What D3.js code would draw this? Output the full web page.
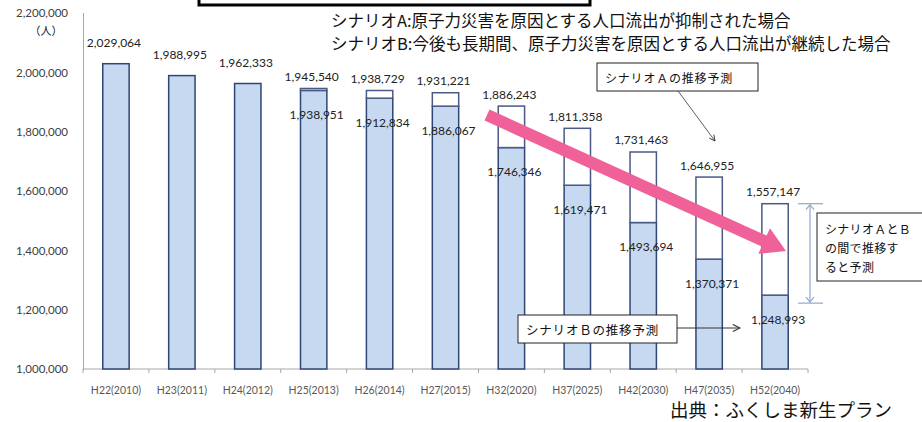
<!DOCTYPE html>
<html>
<head>
<meta charset="utf-8">
<script src="https://cdn.jsdelivr.net/npm/d3@7"></script>
<style>
  body { margin: 0; background: #fff; }
  svg { display: block; }
  .num { font-family: Lato, "Liberation Sans", sans-serif; font-size: 12px; fill: #222; }
  .jp { font-family: "Noto Sans CJK JP", sans-serif; fill: #111; }
</style>
</head>
<body>
<svg id="chart" width="922" height="422"></svg>
<script>
// categories and the two projections (people)
const years = ["H22(2010)", "H23(2011)", "H24(2012)", "H25(2013)", "H26(2014)", "H27(2015)",
  "H32(2020)", "H37(2025)", "H42(2030)", "H47(2035)", "H52(2040)"];
const scenarioA = [2029064, 1988995, 1962333, 1945540, 1938729, 1931221,
  1886243, 1811358, 1731463, 1646955, 1557147];
const scenarioB = [2029064, 1988995, 1962333, 1938951, 1912834, 1886067,
  1746346, 1619471, 1493694, 1370371, 1248993];
const yTicks = [1000000, 1200000, 1400000, 1600000, 1800000, 2000000, 2200000];

const legendLines = [
  "シナリオA:原子力災害を原因とする人口流出が抑制された場合",
  "シナリオB:今後も長期間、原子力災害を原因とする人口流出が継続した場合"
];

const rows = years.map((y, i) => ({ year: y, a: scenarioA[i], b: scenarioB[i] }));

const svg = d3.select("#chart");
const plotLeft = 83, plotRight = 808, plotTop = 13, plotBottom = 369;

const x = d3.scaleBand()
  .domain(years)
  .range([plotLeft, plotRight])
  .paddingInner(0.6)
  .paddingOuter(0.3);

const y = d3.scaleLinear()
  .domain([1000000, 2200000])
  .range([plotBottom, plotTop]);

const fmt = d3.format(",");
const axisColor = "#a6a6a6";

// y axis
const yAxis = svg.append("g")
  .attr("transform", `translate(${plotLeft},0)`)
  .call(d3.axisLeft(y).tickValues(yTicks).tickFormat(fmt).tickSize(4).tickSizeOuter(0).tickPadding(11));
yAxis.select(".domain").attr("stroke", axisColor);
yAxis.selectAll(".tick line").attr("stroke", axisColor).attr("x2", 1);
yAxis.selectAll(".tick text")
  .attr("fill", "#404040")
  .style("font-family", "Lato, sans-serif")
  .style("font-size", "11.5px");

svg.append("text")
  .attr("class", "jp")
  .attr("x", 46).attr("y", 30)
  .attr("text-anchor", "middle")
  .attr("dominant-baseline", "central")
  .style("font-size", "11px")
  .attr("fill", "#404040")
  .text("（人）");

// x axis
const xAxisG = svg.append("g");
xAxisG.append("line")
  .attr("x1", plotLeft).attr("x2", plotRight)
  .attr("y1", plotBottom).attr("y2", plotBottom)
  .attr("stroke", axisColor);
xAxisG.selectAll(".xtick")
  .data(d3.range(years.length + 1))
  .join("line")
  .attr("x1", i => plotLeft + i * x.step())
  .attr("x2", i => plotLeft + i * x.step())
  .attr("y1", plotBottom).attr("y2", plotBottom + 4)
  .attr("stroke", axisColor);
xAxisG.selectAll(".xlab")
  .data(years)
  .join("text")
  .attr("x", d => x(d) + x.bandwidth() / 2)
  .attr("y", 390)
  .attr("text-anchor", "middle")
  .attr("dominant-baseline", "central")
  .style("font-family", "Lato, sans-serif")
  .style("font-size", "10.5px")
  .attr("fill", "#595959")
  .text(d => d);

// bars: scenario B (blue) + gap up to scenario A (white)
const barStroke = "#2f4575";
svg.append("g").selectAll("rect")
  .data(rows)
  .join("rect")
  .attr("x", d => x(d.year))
  .attr("width", x.bandwidth())
  .attr("y", d => y(d.b))
  .attr("height", d => y(1000000) - y(d.b))
  .attr("fill", "#c6d9f1")
  .attr("stroke", barStroke)
  .attr("stroke-width", 1.5);

svg.append("g").selectAll("rect")
  .data(rows.filter(d => d.a !== d.b))
  .join("rect")
  .attr("x", d => x(d.year))
  .attr("width", x.bandwidth())
  .attr("y", d => y(d.a))
  .attr("height", d => y(d.b) - y(d.a))
  .attr("fill", "#fff")
  .attr("stroke", "#4a5a86")
  .attr("stroke-width", 1.5);

// value labels
svg.append("g").selectAll("text")
  .data(rows)
  .join("text")
  .attr("class", "num")
  .attr("x", d => x(d.year) + x.bandwidth() / 2 - 2)
  .attr("y", d => y(d.a) - (d.a === d.b ? 21 : 12))
  .attr("text-anchor", "middle")
  .attr("dominant-baseline", "central")
  .text(d => fmt(d.a));

svg.append("g").selectAll("text")
  .data(rows.filter(d => d.a !== d.b))
  .join("text")
  .attr("class", "num")
  .attr("x", d => x(d.year) + x.bandwidth() / 2 + 3)
  .attr("y", d => y(d.b) + 24)
  .attr("text-anchor", "middle")
  .attr("dominant-baseline", "central")
  .text(d => fmt(d.b));

// header box and legend lines
svg.append("rect")
  .attr("x", 199).attr("y", -10)
  .attr("width", 391).attr("height", 15)
  .attr("fill", "#fff")
  .attr("stroke", "#000")
  .attr("stroke-width", 3);

svg.append("g").selectAll("text")
  .data(legendLines)
  .join("text")
  .attr("class", "jp")
  .attr("x", 331)
  .attr("y", (d, i) => 20 + i * 23)
  .attr("dominant-baseline", "central")
  .style("font-size", "16.5px")
  .text(d => d);

// pink trend arrow
const arrowFrom = [487, 115], arrowTo = [786, 251];
const ang = Math.atan2(arrowTo[1] - arrowFrom[1], arrowTo[0] - arrowFrom[0]);
const len = Math.hypot(arrowTo[0] - arrowFrom[0], arrowTo[1] - arrowFrom[1]);
const shaftHalf = 6, headHalf = 14, headLen = 24;
const pts = [
  [0, -shaftHalf], [len - headLen, -shaftHalf], [len - headLen, -headHalf], [len, 0],
  [len - headLen, headHalf], [len - headLen, shaftHalf], [0, shaftHalf]
];
svg.append("polygon")
  .attr("points", pts.map(p => p.join(",")).join(" "))
  .attr("transform", `translate(${arrowFrom[0]},${arrowFrom[1]}) rotate(${ang * 180 / Math.PI})`)
  .attr("fill", "#f0619a");

// callouts
svg.append("defs").append("marker")
  .attr("id", "open-arrow")
  .attr("viewBox", "0 0 10 10")
  .attr("refX", 9).attr("refY", 5)
  .attr("markerWidth", 9).attr("markerHeight", 9)
  .attr("orient", "auto")
  .append("path")
  .attr("d", "M1,1 L9,5 L1,9")
  .attr("fill", "none")
  .attr("stroke", "#333")
  .attr("stroke-width", 1.2);

function callout(bx, by, bw, bh, lines, fontSize, spacing, tracking) {
  svg.append("rect")
    .attr("x", bx).attr("y", by)
    .attr("width", bw).attr("height", bh)
    .attr("fill", "#fff")
    .attr("stroke", "#222")
    .attr("stroke-width", 1);
  svg.append("g").selectAll("text")
    .data(lines)
    .join("text")
    .attr("class", "jp")
    .attr("x", bx + 8)
    .attr("y", (d, i) => by + bh / 2 + (i - (lines.length - 1) / 2) * spacing)
    .attr("dominant-baseline", "central")
    .style("font-size", fontSize + "px")
    .style("letter-spacing", tracking + "px")
    .text(d => d);
}

// scenario A callout
svg.append("line")
  .attr("x1", 678).attr("y1", 91)
  .attr("x2", 715).attr("y2", 141)
  .attr("stroke", "#333").attr("stroke-width", 0.8)
  .attr("marker-end", "url(#open-arrow)");
callout(597, 63, 161, 28, ["シナリオＡの推移予測"], 12, 0, 0.8);

// scenario B callout
svg.append("line")
  .attr("x1", 677).attr("y1", 328)
  .attr("x2", 740).attr("y2", 328)
  .attr("stroke", "#333").attr("stroke-width", 1)
  .attr("marker-end", "url(#open-arrow)");
callout(518, 315, 159, 28, ["シナリオＢの推移予測"], 12.5, 0, 0.8);

// range bracket for the last year
const last = rows[rows.length - 1];
const capTop = y(last.a), capBot = y(last.b) + 8;
const bracket = svg.append("g").attr("stroke", "#8fa9c8").attr("stroke-width", 1.2).attr("fill", "none");
bracket.append("line").attr("x1", 798).attr("x2", 823).attr("y1", capTop).attr("y2", capTop);
bracket.append("line").attr("x1", 798).attr("x2", 823).attr("y1", capBot).attr("y2", capBot);
bracket.append("line").attr("x1", 810).attr("x2", 810).attr("y1", capTop + 1).attr("y2", capBot - 1);
bracket.append("path").attr("d", `M806,${capTop + 6} L810,${capTop + 1} L814,${capTop + 6}`);
bracket.append("path").attr("d", `M806,${capBot - 6} L810,${capBot - 1} L814,${capBot - 6}`);

callout(817, 213, 110, 68, ["シナリオＡとＢ", "の間で推移す", "ると予測"], 12, 19, 0.3);

// source
svg.append("text")
  .attr("class", "jp")
  .attr("x", 892).attr("y", 409)
  .attr("text-anchor", "end")
  .attr("dominant-baseline", "central")
  .style("font-size", "18.5px")
  .text("出典：ふくしま新生プラン");
</script>
</body>
</html>
